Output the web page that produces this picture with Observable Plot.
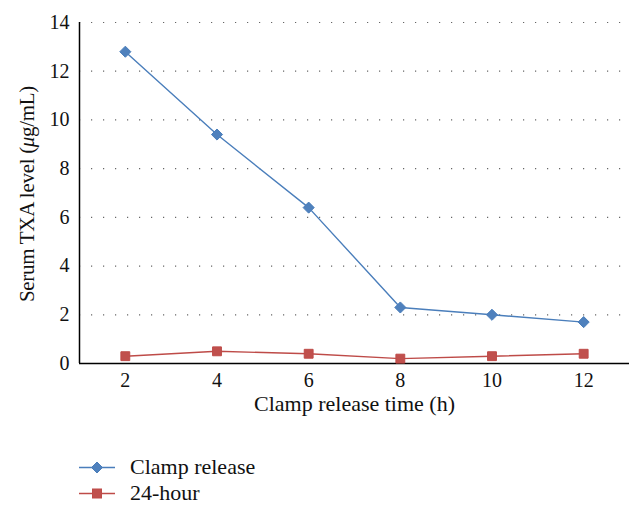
<!DOCTYPE html>
<html>
<head>
<meta charset="utf-8">
<script src="https://cdn.jsdelivr.net/npm/d3@7"></script>
<script src="https://cdn.jsdelivr.net/npm/@observablehq/plot@0.6"></script>
<style>
  html, body { margin: 0; padding: 0; background: #fff; }
  #wrap { position: relative; width: 643px; height: 516px; overflow: hidden; }
  #wrap, #wrap * { font-family: "Liberation Serif", "Times New Roman", serif !important; }
  #legend { position: absolute; left: 79px; top: 454px; font-size: 22px; color: #111; }
  .row { display: flex; align-items: center; height: 26px; }
  .row svg { margin-right: 15px; }
</style>
</head>
<body>
<div id="wrap">
  <div id="chart"></div>
  <div id="legend"></div>
</div>
<script>
const hours = [2, 4, 6, 8, 10, 12];
const clampRelease = [12.8, 9.4, 6.4, 2.3, 2.0, 1.7];
const hour24 = [0.3, 0.5, 0.4, 0.2, 0.3, 0.4];
const yTicks = [0, 2, 4, 6, 8, 10, 12, 14];
const seriesNames = ["Clamp release", "24-hour"];
const lineColors = ["#4A7EBB", "#BE4B48"];
const fillColors = ["#4F81BD", "#C0504D"];
const symbols = ["diamond2", "square"];

const data = [];
hours.forEach((h, i) => {
  data.push({ hour: h, value: clampRelease[i], series: seriesNames[0] });
  data.push({ hour: h, value: hour24[i], series: seriesNames[1] });
});

const chart = Plot.plot({
  width: 643,
  height: 440,
  marginLeft: 79,
  marginRight: 14,
  marginTop: 22,
  marginBottom: 77,
  style: { fontFamily: "Liberation Serif", fontSize: "20px", color: "#111", background: "#fff" },
  x: { domain: [1, 13] },
  y: { domain: [0, 14] },
  color: { domain: seriesNames, range: lineColors },
  symbol: { domain: seriesNames, range: symbols },
  marks: [
    Plot.gridY(yTicks.filter(d => d > 0), { x1: 1, x2: 12.9, stroke: "#666", strokeOpacity: 1, strokeWidth: 1.2, strokeDasharray: "1.2,10.8" }),
    Plot.axisX({ ticks: hours, tickSize: 0, tickPadding: 9, label: null, fontSize: 20 }),
    Plot.axisY({ ticks: yTicks, tickSize: 0, tickPadding: 10, label: null, fontSize: 20 }),
    Plot.ruleY([0], { stroke: "#000", strokeWidth: 1.5 }),
    Plot.ruleX([1], { stroke: "#000", strokeWidth: 1.5 }),
    Plot.line(data, { x: "hour", y: "value", z: "series", stroke: "series", strokeWidth: 1.4 }),
    Plot.dot(data, { x: "hour", y: "value", symbol: "series", r: 5,
      fill: d => fillColors[seriesNames.indexOf(d.series)],
      stroke: d => lineColors[seriesNames.indexOf(d.series)], strokeWidth: 1 }),
    Plot.text(["Clamp release time (h)"], { frameAnchor: "bottom", dy: 47, fontSize: 22, fill: "#111" }),
    Plot.text(["Serum TXA level (μg/mL)"], { frameAnchor: "left", dx: -52, dy: 1, rotate: -90, textAnchor: "middle", fontSize: 21, fill: "#111" })
  ]
});

document.getElementById("chart").appendChild(chart);

// italic mu
chart.querySelectorAll("text").forEach(t => {
  if (t.textContent === "Serum TXA level (μg/mL)") {
    t.innerHTML = 'Serum TXA level (<tspan font-style="italic">μ</tspan>g/mL)';
    t.setAttribute("letter-spacing", "-0.3");
  }
});

// legend
const legend = document.getElementById("legend");
seriesNames.forEach((name, i) => {
  const row = document.createElement("div");
  row.className = "row";
  const shape = symbols[i] === "square"
    ? `<rect x="13.5" y="8" width="9" height="9" fill="${fillColors[i]}" stroke="${lineColors[i]}"/>`
    : `<path d="M18,7 L23.5,12.5 L18,18 L12.5,12.5 Z" fill="${fillColors[i]}" stroke="${lineColors[i]}"/>`;
  row.innerHTML = `<svg width="36" height="25"><line x1="0" x2="36" y1="12.5" y2="12.5" stroke="${lineColors[i]}" stroke-width="1.4"/>${shape}</svg><span>${name}</span>`;
  legend.appendChild(row);
});
</script>
</body>
</html>
